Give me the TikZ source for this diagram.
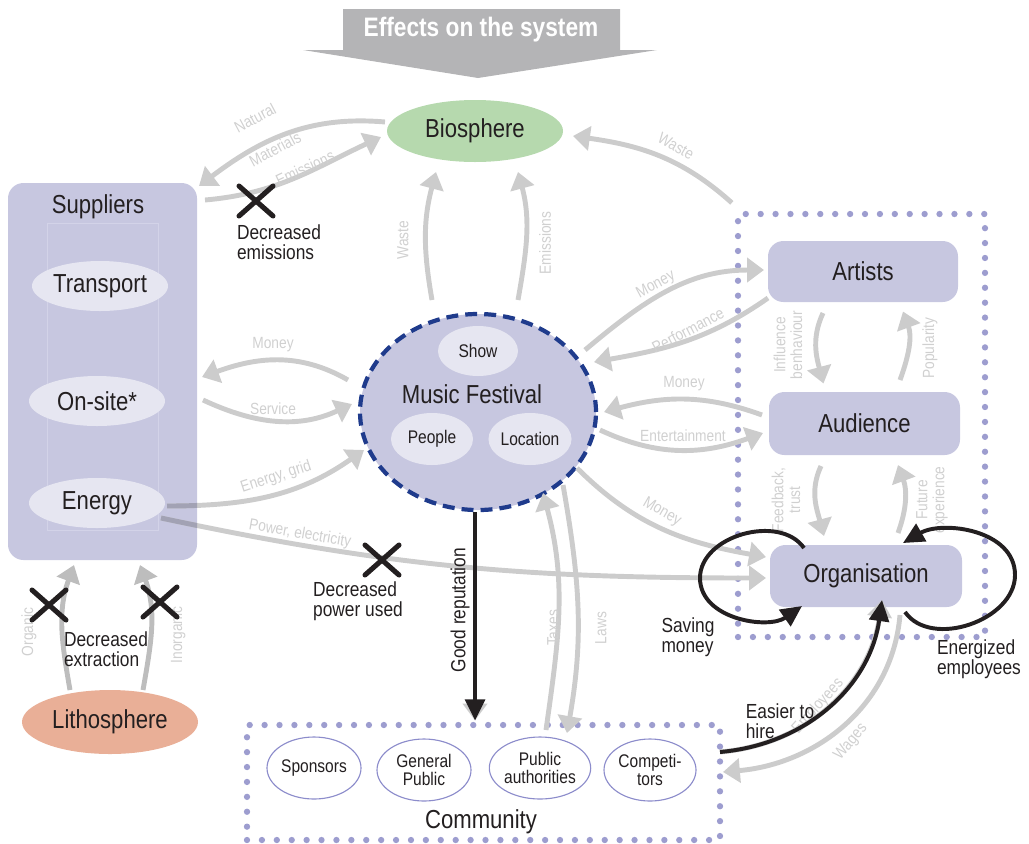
\documentclass[tikz,border=0pt]{standalone}
\usepackage{fontspec}
\setmainfont{Liberation Sans}[FakeStretch=0.85]
\usetikzlibrary{arrows.meta, positioning, shapes.geometric, calc}
\definecolor{CLavender}{HTML}{C7C7E0}
\definecolor{CPale}{HTML}{E6E6F1}
\definecolor{CGreen}{HTML}{B6D9AE}
\definecolor{CClay}{HTML}{E9AF97}
\definecolor{CNavy}{HTML}{1F3B8C}
\definecolor{CDots}{HTML}{9D9DCF}
\definecolor{CRing}{HTML}{8C8CCB}
\definecolor{CFlow}{HTML}{CCCCCC}
\definecolor{CFlowDark}{HTML}{A2A2B4}
\definecolor{CMine}{HTML}{BDBDBD}
\definecolor{CLabel}{HTML}{D0D0D0}
\definecolor{CBanner}{HTML}{B4B4B6}
\definecolor{CInk}{HTML}{231F20}
\definecolor{CFaint}{HTML}{D3D3E8}
\newcommand{\px}{0.025cm}
\newcommand{\fBig}{\fontsize{18.5}{20}\selectfont}
\newcommand{\fMid}{\fontsize{14.5}{14}\selectfont}
\newcommand{\fSmall}{\fontsize{13}{13}\selectfont}
\newcommand{\fTiny}{\fontsize{11.5}{12}\selectfont}
\newcommand{\drawCross}[1]{%
    \draw[CInk, line width=3.6pt, line cap=round] ($(#1)+(-17,-15)$) -- ($(#1)+(17,15)$);
    \draw[CInk, line width=3.6pt, line cap=round] ($(#1)+(-17,15)$) -- ($(#1)+(17,-15)$);
}

\begin{document}
\begin{tikzpicture}[x=\px, y=-\px,
    box/.style={rectangle, rounded corners=11pt, fill=CLavender, text=CInk, font=\fBig},
    blob/.style={ellipse, fill=CPale, text=CInk, font=\fBig, inner sep=0pt},
    member/.style={ellipse, draw=CRing, fill=white, thick, text=CInk, font=\fSmall, align=center, inner sep=0pt, minimum width=94*\px, minimum height=62*\px},
    dotbox/.style={rectangle, draw=CDots, line width=4.5pt, line cap=round, dash pattern=on 0pt off 10.6pt},
    flow/.style={draw=CFlow, line width=3.5pt, -{Triangle[length=12pt,width=17pt]}},
    flowlbl/.style={text=CLabel, font=\fTiny, inner sep=0pt},
    push/.style={draw=CInk, line width=2.8pt, -{Triangle[length=15pt,width=14pt]}},
    note/.style={text=CInk, font=\fMid, inner sep=0pt, align=left}
]
    \useasboundingbox (0,0) rectangle (1029,843);

    % --- 1. TITLE BANNER ---
    \fill[CBanner] (343,9) -- (620,9) -- (620,50) -- (657,50) -- (478,78) -- (303,50) -- (343,50) -- cycle;
    \node[font=\bfseries\fontsize{19}{20}\selectfont, text=white] (title) at (481,30) {Effects on the system};

    % --- 2. NODES ---
    \node[blob, fill=CGreen, minimum width=176*\px, minimum height=62*\px] (bio) at (475,131) {Biosphere};
    \node[blob, fill=CClay, minimum width=176*\px, minimum height=64*\px] (litho) at (110,722) {Lithosphere};

    % Suppliers
    \node[box, minimum width=189*\px, minimum height=377*\px] (sup) at (102.5,371.5) {};
    \node[text=CInk, font=\fBig] (supT) at (98,207) {Suppliers};
    \draw[CFaint] (47,223) rectangle (158,530);
    \node[blob, minimum width=136*\px, minimum height=50*\px] (trans) at (100,286) {Transport};
    \node[blob, minimum width=136*\px, minimum height=50*\px] (onsite) at (97,401) {On-site*};
    \node[blob, minimum width=136*\px, minimum height=50*\px] (energy) at (97,503) {Energy};

    % Festival
    \node[ellipse, fill=CLavender, draw=CNavy, line width=3pt, dash pattern=on 8.5pt off 5pt,
          minimum width=236*\px, minimum height=196*\px] (fest) at (478,412) {};
    \node[text=CInk, font=\fBig] (festT) at (472,394) {Music Festival};
    \node[blob, font=\fSmall, minimum width=80*\px, minimum height=50*\px] (show) at (478,351) {Show};
    \node[blob, font=\fSmall, minimum width=82*\px, minimum height=52*\px] (people) at (432,439) {People};
    \node[blob, font=\fSmall, minimum width=82*\px, minimum height=52*\px] (loc) at (530,439) {Location};

    % Organisation side
    \node[dotbox, minimum width=247*\px, minimum height=423*\px] (crew) at (861.5,425.5) {};
    \node[box, minimum width=190*\px, minimum height=61*\px] (art) at (863,271.5) {Artists};
    \node[box, minimum width=191*\px, minimum height=63*\px] (aud) at (864.5,423.5) {Audience};
    \node[box, minimum width=192*\px, minimum height=62*\px] (org) at (866,576) {Organisation};

    % Community
    \node[dotbox, minimum width=473*\px, minimum height=115*\px] (comm) at (483.5,782.5) {};
    \node[text=CInk, font=\fBig] (commT) at (481,822) {Community};
    \node[member] (spons) at (314,768) {Sponsors};
    \node[member] (genpub) at (424,770) {General\\Public};
    \node[member] (pubauth) at (540,768) {Public\\authorities};
    \node[member, minimum width=92*\px] (compet) at (650,770) {Competi-\\tors};

    % --- 3. FLOWS ---
    \draw[flow] ($(bio)+(-90,-9)$) to[out=175,in=37] ($(sup)+(96.5,-185.5)$);
    \draw[flow] ($(sup)+(102.5,-171.5)$) to[out=5,in=205] ($(bio)+(-94,6)$);
    \draw[flow] ($(fest)+(-46,-112)$) to[out=100,in=255] ($(bio)+(-39,41)$);
    \draw[flow] ($(fest)+(40,-112)$) to[out=80,in=285] ($(bio)+(43,41)$);
    \draw[flow] ($(crew.north west)+(-3,-8)$) to[out=138,in=-8] ($(bio)+(98,5)$);
    \draw[flow] ($(fest)+(-130,-32)$) to[out=150,in=20] ($(sup)+(99.5,5.5)$);
    \draw[flow] ($(sup)+(100.5,28.5)$) to[out=-25,in=205] ($(fest)+(-126,-8)$);
    \draw[flow] ($(energy)+(70,3)$) to[out=0,in=215] ($(fest)+(-114,38)$);
    \draw[flow] ($(energy)+(64,15)$) to[out=-12,in=180] ($(org)+(-100,2)$);
    \begin{scope}
        \clip (8,183) rectangle (197,560);
        \draw[flow, draw=CFlowDark, -] ($(energy)+(70,3)$) to[out=0,in=215] ($(fest)+(-114,38)$);
        \draw[flow, draw=CFlowDark, -] ($(energy)+(64,15)$) to[out=-12,in=180] ($(org)+(-100,2)$);
    \end{scope}
    \draw[flow] ($(fest)+(107,-62)$) to[out=40,in=180] ($(art)+(-99,-1.5)$);
    \draw[flow] ($(art)+(-95,26.5)$) to[out=215,in=10] ($(fest)+(116,-50)$);
    \draw[flow] ($(aud)+(-102.5,-8.5)$) to[out=160,in=15] ($(fest)+(126,0)$);
    \draw[flow] ($(fest)+(122,18)$) to[out=-25,in=200] ($(aud)+(-101.5,9.5)$);
    \draw[flow] ($(fest)+(99,56)$) to[out=-45,in=170] ($(org)+(-100,-19)$);
    \draw[flow] ($(art)+(-40,41.5)$) to[out=245,in=105] ($(aud)+(-41,-40)$);
    \draw[flow] ($(aud)+(35.5,-43.5)$) to[out=70,in=290] ($(art)+(40,40)$);
    \draw[flow] ($(aud)+(-43.5,42.5)$) to[out=245,in=105] ($(org)+(-42,-40)$);
    \draw[flow] ($(org)+(32,-43)$) to[out=70,in=290] ($(aud)+(33.5,41.5)$);
    \draw[flow] ($(pubauth)+(6,-38)$) to[out=82,in=285] ($(fest)+(65,81)$);
    \draw[flow] ($(fest)+(85,73)$) to[out=-80,in=80] ($(pubauth)+(27,-35)$);
    \draw[flow] ($(org)+(34,39)$) to[out=-95,in=5] ($(compet)+(73,2)$);
    \draw[flow] ($(compet)+(70,-18)$) to[out=5,in=262] ($(org)+(16,24)$);
    \draw[flow] ($(fest)+(-3,100)$) -- ($(comm)+(-8.5,-62)$);
    \draw[flow, draw=CMine] ($(litho)+(-40,-32)$) to[out=100,in=250] ($(sup)+(-28.5,193.5)$);
    \draw[flow, draw=CMine] ($(litho)+(33,-32)$) to[out=80,in=290] ($(sup)+(37.5,193.5)$);

    % flow labels
    \node[flowlbl, rotate=28] (lNatA) at (255,118) {Natural};
    \node[flowlbl, rotate=28] (lNatB) at (275,149) {Materials};
    \node[flowlbl, rotate=25] (lEmisA) at (305,168) {Emissions};
    \node[flowlbl, rotate=90] (lWasteA) at (403,240) {Waste};
    \node[flowlbl, rotate=90] (lEmisB) at (545,243) {Emissions};
    \node[flowlbl, rotate=-30] (lWasteB) at (676,146) {Waste};
    \node[flowlbl] (lMoneyA) at (273,345) {Money};
    \node[flowlbl] (lService) at (273,409) {Service};
    \node[flowlbl, rotate=18] (lGrid) at (276,477) {Energy, grid};
    \node[flowlbl, rotate=-10] (lPower) at (300,534) {Power, electricity};
    \node[flowlbl, rotate=28] (lMoneyB) at (656,285) {Money};
    \node[flowlbl, rotate=28] (lPerf) at (688,330) {Performance};
    \node[flowlbl] (lMoneyC) at (684,384) {Money};
    \node[flowlbl] (lEnt) at (683,436) {Entertainment};
    \node[flowlbl, rotate=-30] (lMoneyD) at (662,512) {Money};
    \node[flowlbl, rotate=90, align=center] (lInfl) at (788,345) {Influence\\benhaviour};
    \node[flowlbl, rotate=90] (lPop) at (930,348) {Popularity};
    \node[flowlbl, rotate=90, align=center] (lFeed) at (786,500) {Feedback,\\trust};
    \node[flowlbl, rotate=90, align=center] (lFut) at (932,500) {Future\\experience};
    \node[flowlbl, rotate=90] (lTax) at (553,628) {Taxes};
    \node[flowlbl, rotate=90] (lLaw) at (601,628) {Laws};
    \node[flowlbl, rotate=48] (lEmp) at (818,706) {Employees};
    \node[flowlbl, rotate=50] (lWage) at (851,742) {Wages};
    \node[flowlbl, rotate=90] (lOrg) at (29,632) {Organic};
    \node[flowlbl, rotate=90] (lInorg) at (178,635) {Inorganic};

    % --- 4. EFFECTS ---
    \draw[push] ($(fest)+(-3,100)$) -- ($(comm)+(-8.5,-62)$);
    \node[text=CInk, font=\fMid, inner sep=0pt, rotate=90] (lRep) at (460,610) {Good reputation};
    \draw[push] ($(org)+(-62,-28)$) to[out=125,in=90] ($(org)+(-166,2)$) to[out=270,in=215] ($(org)+(-64,30)$);
    \draw[push] ($(org)+(39,36)$) to[out=-55,in=270] ($(org)+(149,-1)$) to[out=90,in=30] ($(org)+(37,-33)$);
    \draw[push] ($(compet)+(70,-18)$) to[out=5,in=262] ($(org)+(16,24)$);

    \drawCross{256,201}
    \drawCross{382,560}
    \drawCross{49,605}
    \drawCross{160,602}

    \node[note] (nEmis) at (279,242) {Decreased\\emissions};
    \node[note] (nPower) at (358,601) {Decreased\\power used};
    \node[note] (nExtr) at (106,649) {Decreased\\extraction};
    \node[note] (nSave) at (688,637) {Saving\\money};
    \node[note] (nHire) at (780,721) {Easier to\\hire};
    \node[note] (nEnerg) at (979,659) {Energized\\employees};

\end{tikzpicture}
\end{document}
